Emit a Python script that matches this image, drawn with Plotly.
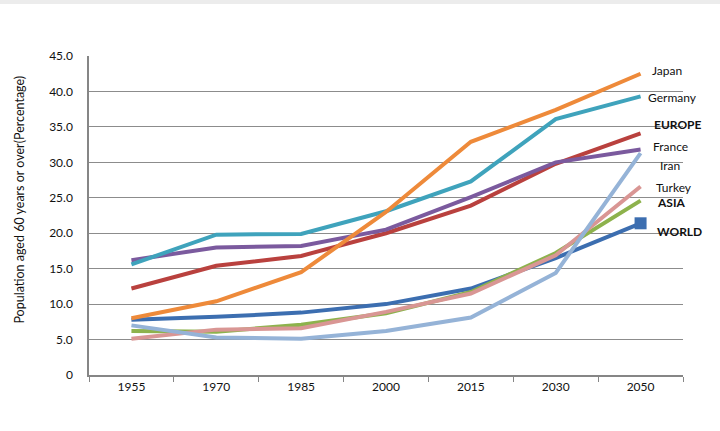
import plotly.graph_objects as go

years = ["1955", "1970", "1985", "2000", "2015", "2030", "2050"]

japan   = [8.0, 10.4, 14.5, 23.0, 32.9, 37.4, 42.5]
germany = [15.6, 19.8, 19.9, 23.1, 27.3, 36.1, 39.3]
europe  = [12.2, 15.4, 16.8, 20.0, 23.9, 29.8, 34.1]
france  = [16.2, 18.0, 18.2, 20.5, 25.1, 30.0, 31.8]
iran    = [7.0, 5.3, 5.1, 6.2, 8.1, 14.4, 31.3]
turkey  = [5.1, 6.4, 6.6, 8.9, 11.5, 16.9, 26.6]
asia    = [6.2, 6.1, 7.1, 8.7, 11.7, 17.2, 24.6]
world   = [7.8, 8.2, 8.8, 10.0, 12.2, 16.5, 21.4]

y_ticks = [0, 5, 10, 15, 20, 25, 30, 35, 40, 45]
y_tick_text = ["0", "5.0", "10.0", "15.0", "20.0", "25.0", "30.0", "35.0", "40.0", "45.0"]

series = [
    ("World", world, "#3C6EB0"),
    ("Asia", asia, "#8DB24C"),
    ("Turkey", turkey, "#D99694"),
    ("Iran", iran, "#95B3D7"),
    ("Europe", europe, "#B9413E"),
    ("France", france, "#7B5A9E"),
    ("Germany", germany, "#3FA3BC"),
    ("Japan", japan, "#EE8A3A"),
]

FONT = "Lato, Open Sans, sans-serif"
TXT = "#111111"

fig = go.Figure()
for name, vals, col in series:
    fig.add_trace(go.Scatter(
        x=years, y=vals, mode="lines", name=name,
        line=dict(color=col, width=4), showlegend=False,
    ))

# World end-point square marker
fig.add_trace(go.Scatter(
    x=[years[-1]], y=[world[-1]], mode="markers", showlegend=False,
    marker=dict(symbol="square", size=12, color="#3C6EB0"),
))

labels = [
    ("Japan", 43.0, False),
    ("Germany", 39.1, False),
    ("EUROPE", 35.3, True),
    ("France", 32.3, False),
    ("Iran", 29.5, False),
    ("Turkey", 26.4, False),
    ("ASIA", 24.4, True),
    ("WORLD", 20.3, True),
]
label_x = {"Japan": 6.11, "Germany": 6.06, "EUROPE": 6.13, "France": 6.12,
           "Iran": 6.20, "Turkey": 6.16, "ASIA": 6.17, "WORLD": 6.17}
for txt, yv, bold in labels:
    fig.add_annotation(
        x=label_x[txt], y=yv, xref="x", yref="y",
        text=f"<b>{txt}</b>" if bold else txt,
        showarrow=False, xanchor="left", yanchor="middle",
        font=dict(family=FONT, size=12, color=TXT),
    )

fig.add_annotation(
    x=(20 - 89) / 594, y=0.55, xref="paper", yref="paper",
    text="Population aged 60 years or over(Percentage)",
    textangle=-90, showarrow=False, xanchor="center", yanchor="middle",
    font=dict(family=FONT, size=12.5, color=TXT),
)

fig.add_shape(type="rect", xref="paper", yref="paper",
              x0=-89 / 594, x1=(720 - 89) / 594,
              y0=1 + 52 / 319, y1=1 + 56 / 319,
              fillcolor="#ececec", line=dict(width=0), layer="below")

fig.update_layout(
    width=720, height=431,
    margin=dict(l=89, r=37, t=56, b=56),
    paper_bgcolor="white", plot_bgcolor="white",
    font=dict(family=FONT, size=12, color=TXT),
    xaxis=dict(
        type="category", tickson="boundaries", ticks="outside", ticklen=5,
        tickcolor="#868686", showline=True, linecolor="#868686", linewidth=1.5,
        showgrid=False, range=[-0.5, 6.5],
        tickfont=dict(family=FONT, size=12, color=TXT),
    ),
    yaxis=dict(
        range=[0, 45], tickvals=y_ticks, ticktext=y_tick_text,
        showgrid=True, gridcolor="#8c8c8c", gridwidth=1.3,
        showline=True, linecolor="#868686", linewidth=1.5,
        ticks="", zeroline=False, ticklabelstandoff=12,
        tickfont=dict(family=FONT, size=12, color=TXT),
    ),
)

fig.write_html("out.html", config={"displayModeBar": False},
               post_script="document.body.style.margin='0';")
